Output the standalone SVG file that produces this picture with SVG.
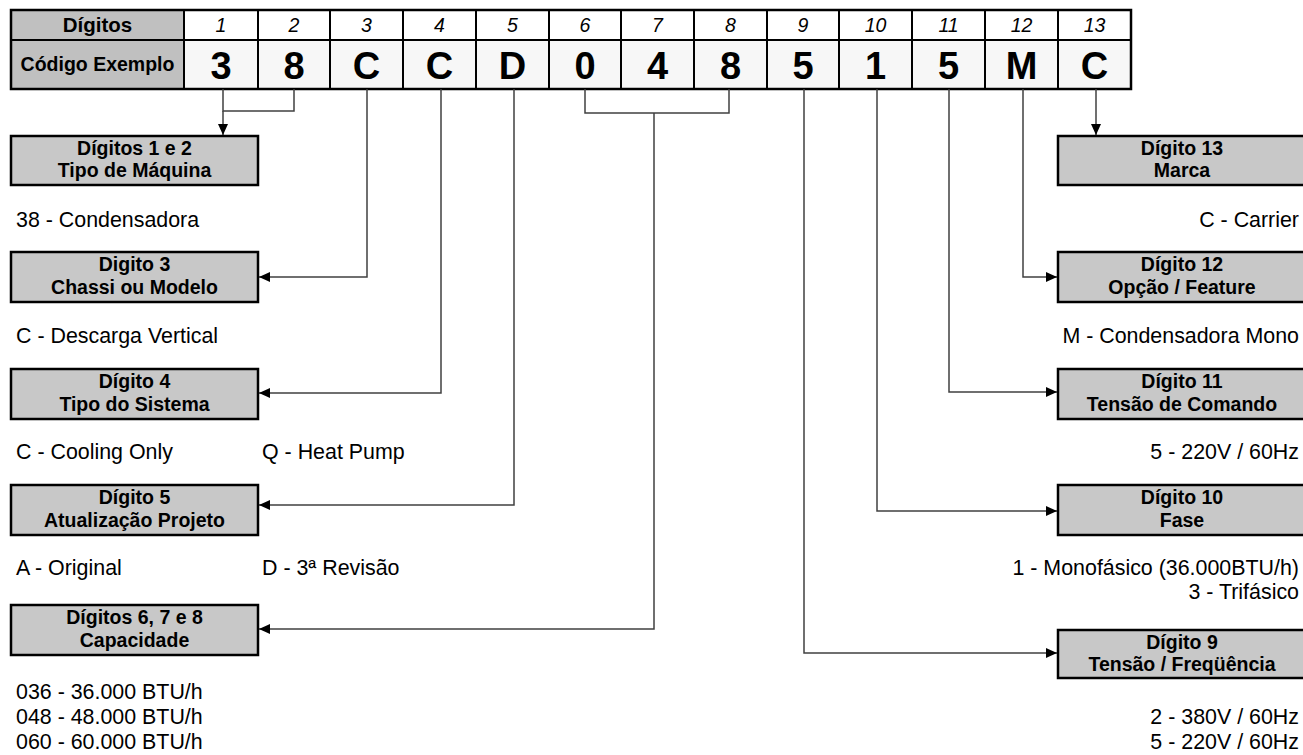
<svg xmlns="http://www.w3.org/2000/svg" width="1303" height="755" viewBox="0 0 1303 755">
<style>
text{font-family:"Liberation Sans",Arial,sans-serif;fill:#000}
.hdr{font-size:20.5px;font-weight:bold;text-anchor:middle}
.num{font-size:19.5px;font-style:italic;text-anchor:middle}
.code{font-size:38px;font-weight:bold;text-anchor:middle}
.bt{font-size:19.5px;font-weight:bold;text-anchor:middle}
.body{font-size:21.4px}
.r{text-anchor:end}
.box{fill:#c8c8c8;stroke:#000;stroke-width:2.5}
.grid{stroke:#000;stroke-width:2;fill:none}
.conn{fill:none;stroke:#404040;stroke-width:1.5}
</style>
<defs>
<marker id="arr" markerUnits="userSpaceOnUse" markerWidth="11" markerHeight="10" refX="11" refY="5" orient="auto">
<path d="M0,0 L11,5 L0,10 z" fill="#000"/>
</marker>
</defs>

<g id="table">
<rect x="11" y="10" width="1120" height="79" fill="#ffffff"/>
<rect x="184" y="40" width="947" height="49" fill="#f7f7f7"/>
<rect x="11" y="10" width="173" height="79" fill="#c0c0c0"/>
<path class="grid" d="M11 40 H1131 M184 10 V89 M258 10 V89 M330 10 V89 M403 10 V89 M476 10 V89 M549 10 V89 M621 10 V89 M694 10 V89 M767 10 V89 M839 10 V89 M912 10 V89 M985 10 V89 M1058 10 V89"/>
<rect x="11" y="10" width="1120" height="79" fill="none" stroke="#000" stroke-width="2.5"/>
<text class="hdr" x="97.5" y="32">Dígitos</text>
<text class="hdr" x="97.5" y="71" style="font-size:19.5px">Código Exemplo</text>
<text class="num" x="221" y="32">1</text>
<text class="num" x="294" y="32">2</text>
<text class="num" x="366.5" y="32">3</text>
<text class="num" x="439.5" y="32">4</text>
<text class="num" x="512.5" y="32">5</text>
<text class="num" x="585" y="32">6</text>
<text class="num" x="657.5" y="32">7</text>
<text class="num" x="730.5" y="32">8</text>
<text class="num" x="803" y="32">9</text>
<text class="num" x="875.5" y="32">10</text>
<text class="num" x="948.5" y="32">11</text>
<text class="num" x="1021.5" y="32">12</text>
<text class="num" x="1094.5" y="32">13</text>
<text class="code" x="221" y="79">3</text>
<text class="code" x="294" y="79">8</text>
<text class="code" x="366.5" y="79">C</text>
<text class="code" x="439.5" y="79">C</text>
<text class="code" x="512.5" y="79">D</text>
<text class="code" x="585" y="79">0</text>
<text class="code" x="657.5" y="79">4</text>
<text class="code" x="730.5" y="79">8</text>
<text class="code" x="803" y="79">5</text>
<text class="code" x="875.5" y="79">1</text>
<text class="code" x="948.5" y="79">5</text>
<text class="code" x="1021.5" y="79">M</text>
<text class="code" x="1094.5" y="79">C</text>
</g>

<g id="connectors">
<path class="conn" d="M223 89 V111 H294 V89"/>
<path class="conn" d="M223 111 V135" marker-end="url(#arr)"/>
<path class="conn" d="M367 89 V277 H259" marker-end="url(#arr)"/>
<path class="conn" d="M441 89 V393 H259" marker-end="url(#arr)"/>
<path class="conn" d="M514 89 V505 H259" marker-end="url(#arr)"/>
<path class="conn" d="M585 89 V113 H729 V89"/>
<path class="conn" d="M654 113 V629 H259" marker-end="url(#arr)"/>
<path class="conn" d="M804 89 V653 H1057" marker-end="url(#arr)"/>
<path class="conn" d="M877 89 V511 H1057" marker-end="url(#arr)"/>
<path class="conn" d="M949 89 V392 H1057" marker-end="url(#arr)"/>
<path class="conn" d="M1023 89 V277 H1057" marker-end="url(#arr)"/>
<path class="conn" d="M1096 89 V135" marker-end="url(#arr)"/>
</g>

<g id="d12">
<rect class="box" x="11" y="136" width="247" height="49"/>
<text class="bt" x="134.5" y="155">Dígitos 1 e 2</text>
<text class="bt" x="134.5" y="177">Tipo de Máquina</text>
<text class="body" x="16" y="227">38 - Condensadora</text>
</g>
<g id="d3">
<rect class="box" x="11" y="252" width="247" height="50"/>
<text class="bt" x="134.5" y="271">Digito 3</text>
<text class="bt" x="134.5" y="294">Chassi ou Modelo</text>
<text class="body" x="16" y="343">C - Descarga Vertical</text>
</g>
<g id="d4">
<rect class="box" x="11" y="369" width="247" height="50"/>
<text class="bt" x="134.5" y="388">Dígito 4</text>
<text class="bt" x="134.5" y="411">Tipo do Sistema</text>
<text class="body" x="16" y="459">C - Cooling Only</text>
<text class="body" x="262" y="459">Q - Heat Pump</text>
</g>
<g id="d5">
<rect class="box" x="11" y="485" width="247" height="50"/>
<text class="bt" x="134.5" y="504">Dígito 5</text>
<text class="bt" x="134.5" y="527">Atualização Projeto</text>
<text class="body" x="16" y="575">A - Original</text>
<text class="body" x="262" y="575">D - 3ª Revisão</text>
</g>
<g id="d678">
<rect class="box" x="11" y="605" width="247" height="50"/>
<text class="bt" x="134.5" y="624">Dígitos 6, 7 e 8</text>
<text class="bt" x="134.5" y="647">Capacidade</text>
<text class="body" x="16" y="699">036 - 36.000 BTU/h</text>
<text class="body" x="16" y="724">048 - 48.000 BTU/h</text>
<text class="body" x="16" y="749">060 - 60.000 BTU/h</text>
</g>

<g id="d13">
<rect class="box" x="1058" y="136" width="250" height="49"/>
<text class="bt" x="1182" y="155">Dígito 13</text>
<text class="bt" x="1182" y="177">Marca</text>
<text class="body r" x="1299" y="227">C - Carrier</text>
</g>
<g id="d12r">
<rect class="box" x="1058" y="252" width="250" height="50"/>
<text class="bt" x="1182" y="271">Dígito 12</text>
<text class="bt" x="1182" y="294">Opção / Feature</text>
<text class="body r" x="1299" y="343">M - Condensadora Mono</text>
</g>
<g id="d11">
<rect class="box" x="1058" y="369" width="250" height="50"/>
<text class="bt" x="1182" y="388">Dígito 11</text>
<text class="bt" x="1182" y="411">Tensão de Comando</text>
<text class="body r" x="1299" y="459">5 - 220V / 60Hz</text>
</g>
<g id="d10">
<rect class="box" x="1058" y="485" width="250" height="50"/>
<text class="bt" x="1182" y="504">Dígito 10</text>
<text class="bt" x="1182" y="527">Fase</text>
<text class="body r" x="1299" y="575">1 - Monofásico (36.000BTU/h)</text>
<text class="body r" x="1299" y="599">3 - Trifásico</text>
</g>
<g id="d9">
<rect class="box" x="1058" y="630" width="250" height="48"/>
<text class="bt" x="1182" y="649">Dígito 9</text>
<text class="bt" x="1182" y="671">Tensão / Freqüência</text>
<text class="body r" x="1299" y="724">2 - 380V / 60Hz</text>
<text class="body r" x="1299" y="749">5 - 220V / 60Hz</text>
</g>
</svg>
